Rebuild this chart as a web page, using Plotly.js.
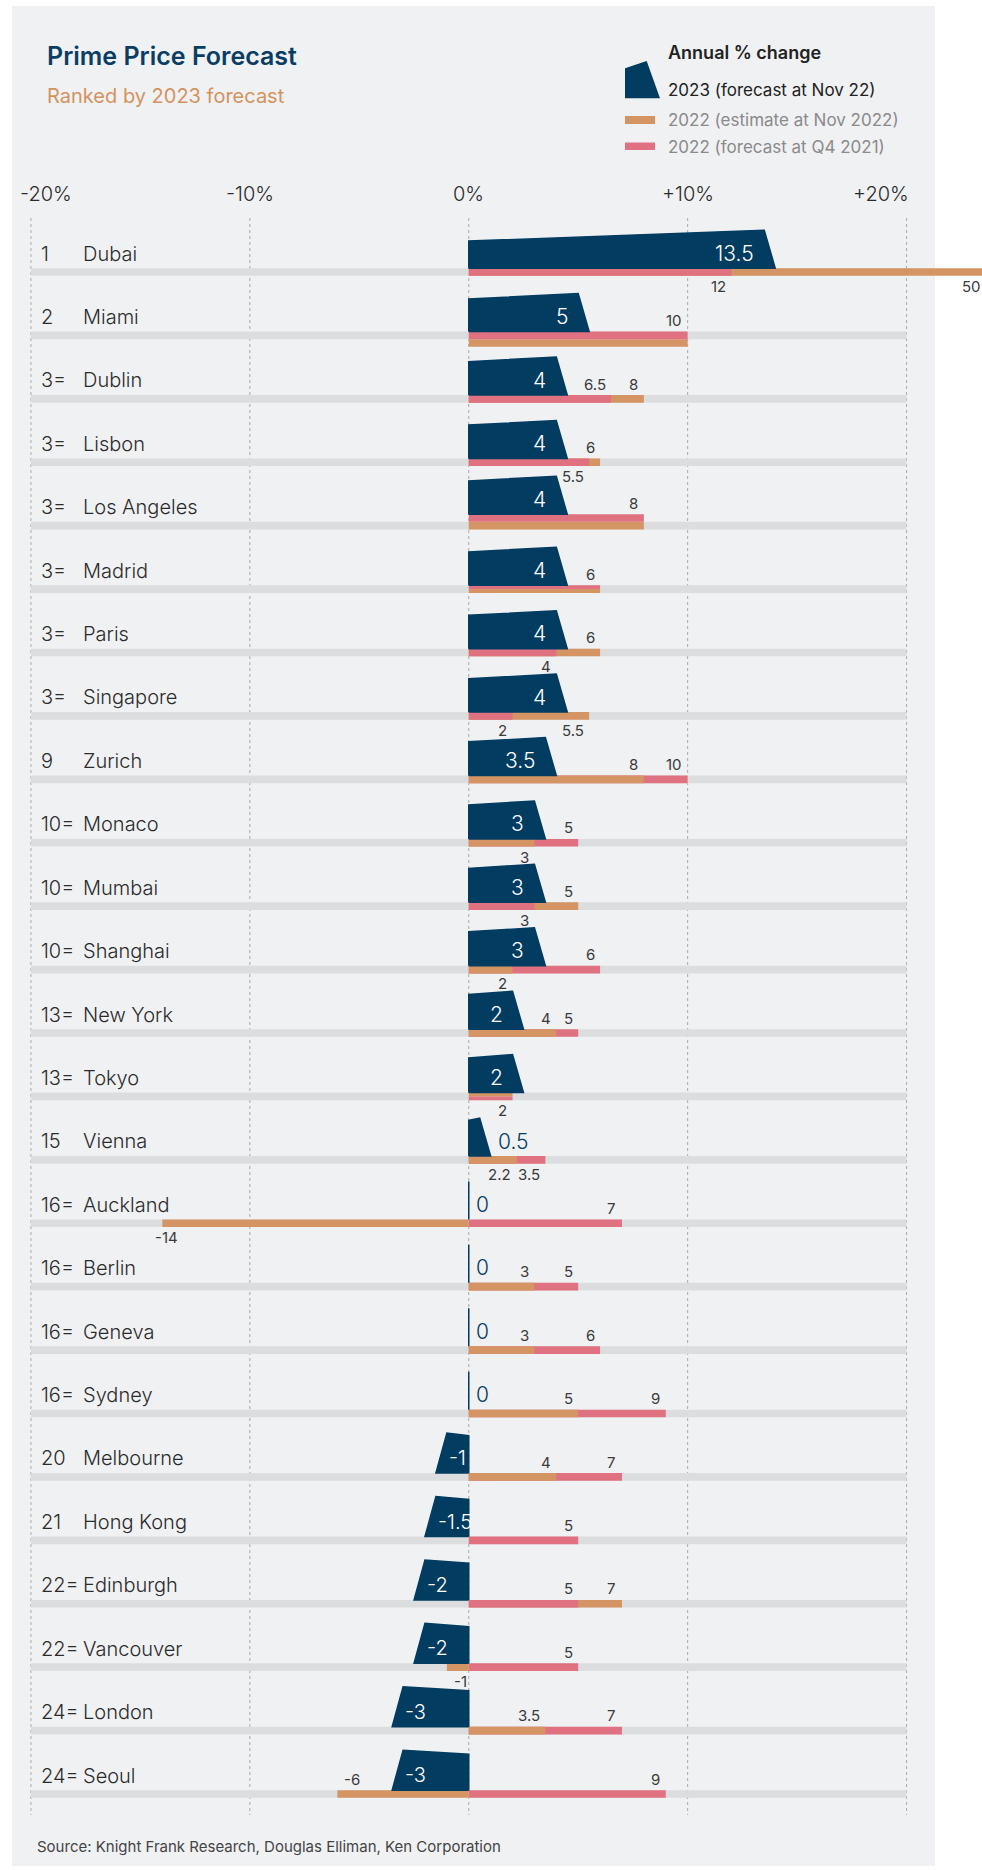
<!DOCTYPE html>
<html><head><meta charset="utf-8">
<script src="https://cdn.plot.ly/plotly-3.0.1.min.js"></script>
<style>html,body{margin:0;padding:0;background:#fff;}#chart{width:982px;height:1870px;}</style>
</head><body><div id="chart"></div>
<script>
// ---------- data ----------
const ranks = ["1","2","3=","3=","3=","3=","3=","3=","9","10=","10=","10=","13=","13=","15","16=","16=","16=","16=","20","21","22=","22=","24=","24="];
const cities = ["Dubai","Miami","Dublin","Lisbon","Los Angeles","Madrid","Paris","Singapore","Zurich","Monaco","Mumbai","Shanghai","New York","Tokyo","Vienna","Auckland","Berlin","Geneva","Sydney","Melbourne","Hong Kong","Edinburgh","Vancouver","London","Seoul"];
const forecast2023 = [13.5,5,4,4,4,4,4,4,3.5,3,3,3,2,2,0.5,0,0,0,0,-1,-1.5,-2,-2,-3,-3];
const estimate2022 = [50,10,8,6,8,6,6,5.5,8,3,5,2,4,2,2.2,-14,3,3,5,4,null,7,-1,3.5,-6];
const forecast2022Q4 = [12,10,6.5,5.5,8,6,4,2,10,5,3,6,5,2,3.5,7,5,6,9,7,5,5,5,7,9];
const tickVals = [-20,-10,0,10,20];
const tickText = ["-20%","-10%","0%","+10%","+20%"];
const legendLabels = ["2023 (forecast at Nov 22)","2022 (estimate at Nov 2022)","2022 (forecast at Q4 2021)"];

// ---------- style ----------
const W=982,H=1870;
const NAVY='#033c61', ORANGE='#d49463', PINK='#e07181', BAND='#dcdddf', PANEL='#f0f1f3', GRID='#a9a9a9', TXT='#2b2b2b';
const FONT='Inter, "Noto Sans", sans-serif';
const X0PX=468.75, PXU=21.89, ROW0=272, ROWPX=63.417;
const px2x=p=>(p-X0PX)/PXU, x2px=v=>X0PX+v*PXU;
const py2y=p=>(p-ROW0)/ROWPX, y2py=y=>ROW0+y*ROWPX;
const BANDPX=7.6, B=BANDPX/ROWPX;
const tieStyle={
  'Miami':{pink:{top:-0.5,h:1},orange:{top:0.5,h:1}},
  'Los Angeles':{pink:{top:-1.5,h:1},orange:{top:-0.5,h:1}},
  'Madrid':{pink:{top:-0.5,h:0.5},orange:{top:0,h:0.5}},
  'Tokyo':{orange:{top:-0.5,h:0.5},pink:{top:0,h:0.5}}
};
const labelBelow={Dubai:['pink','orange'],Lisbon:['pink'],Paris:['pink'],Singapore:['pink','orange'],Monaco:['orange'],Mumbai:['pink'],Shanghai:['orange'],Tokyo:['orange','pink'],Vienna:['orange','pink'],Auckland:['orange'],Vancouver:['orange']};
const labelShift={Auckland:{orange:-14}};

const back={y:[],x:[],width:[],offset:[],color:[]}, front={y:[],x:[],width:[],offset:[],color:[]};
const polyX=[], polyY=[], ann=[];
const A=(o)=>Object.assign({showarrow:false,xref:'x',yref:'y',yanchor:'middle'},o);

cities.forEach((city,i)=>{
  const centerPx=y2py(i);
  let entries=[{key:'orange',v:estimate2022[i],color:ORANGE},{key:'pink',v:forecast2022Q4[i],color:PINK}]
    .filter(e=>e.v!==null && e.v!==0);
  const tie=tieStyle[city]||{};
  let topPx=centerPx-BANDPX/2, botPx=centerPx+BANDPX/2;
  entries.forEach(e=>{e.slot=tie[e.key]||{top:-0.5,h:1};
    topPx=Math.min(topPx,centerPx+e.slot.top*BANDPX);
    botPx=Math.max(botPx,centerPx+(e.slot.top+e.slot.h)*BANDPX);});
  const sorted=entries.slice().sort((a,b)=>Math.abs(b.v)-Math.abs(a.v));
  sorted.forEach((e,k)=>{const t=k===0?back:front;
    t.y.push(i);t.x.push(e.v);t.width.push(e.slot.h*B);t.offset.push(e.slot.top*B);t.color.push(e.color);});
  // 2023 polygon
  const v=forecast2023[i];
  const hOut=(v>=0?38:40), rise=2+0.03*Math.abs(v)*PXU, hIn=hOut-rise;
  const ext=Math.sign(v)*Math.min(Math.abs(v),0.5);
  const yb=py2y(topPx);
  polyX.push(0,0,v,v+ext,0,null);
  polyY.push(yb,yb-hIn/ROWPX,yb-hOut/ROWPX,yb,yb,null);
  // value label
  const vy=py2y(topPx-15);
  if(Math.abs(v)<1){
    ann.push(A({x:px2x(x2px(v+ext)+5),y:vy,xanchor:'left',text:String(v),font:{family:FONT,size:21,color:NAVY,weight:300}}));
  } else if(v>0){
    ann.push(A({x:px2x(x2px(v)-8),y:vy,xanchor:'right',text:String(v),font:{family:FONT,size:21,color:'#ffffff',weight:300}}));
  } else {
    ann.push(A({x:px2x(x2px(v)),y:vy,xanchor:'left',text:String(v),font:{family:FONT,size:20,color:'#ffffff',weight:300}}));
  }
  // row labels
  const ly=py2y(centerPx-18.5);
  ann.push(A({x:px2x(39),y:ly,xanchor:'left',text:ranks[i],font:{family:FONT,size:20,color:TXT,weight:300}}));
  ann.push(A({x:px2x(81),y:ly,xanchor:'left',text:city,font:{family:FONT,size:20,color:TXT,weight:300}}));
  // 2022 labels
  const shown=[];
  entries.forEach(e=>{
    if(shown.some(s=>s===e.v)) return; shown.push(e.v);
    const below=(labelBelow[city]||[]).includes(e.key);
    const yy=py2y(below?botPx+10.5:topPx-11);
    const sh=((labelShift[city]||{})[e.key])||0;
    let x,anchor;
    if(e.v>0){const p=x2px(e.v)-3.5; if(p>W-10){x=px2x(W-22);anchor='left';}else{x=px2x(p+sh);anchor='right';}}
    else {x=px2x(x2px(e.v)+5+sh);anchor='left';}
    ann.push(A({x:x,y:yy,xanchor:anchor,text:String(e.v),font:{family:FONT,size:15,color:'#3a3a3a',weight:400}}));
  });
});

// tick labels
tickVals.forEach((t,k)=>{
  let anchor='center', p=x2px(t);
  if(k===0){anchor='left';p=p-13;} else if(k===tickVals.length-1){anchor='right';p=p+4;}
  ann.push(A({x:px2x(p),y:py2y(194),xanchor:anchor,text:tickText[k],font:{family:FONT,size:20,color:TXT,weight:300}}));
});

const pa=(o)=>Object.assign({showarrow:false,xref:'paper',yref:'paper',xanchor:'left',yanchor:'middle'},o);
ann.push(pa({x:45/W,y:1-56/H,text:'Prime Price Forecast',font:{family:FONT,size:25,color:'#0b3d63',weight:600}}));
ann.push(pa({x:45/W,y:1-96/H,text:'Ranked by 2023 forecast',font:{family:FONT,size:20,color:'#d4935e',weight:400}}));
ann.push(pa({x:666/W,y:1-53/H,text:'Annual % change',font:{family:FONT,size:18,color:'#222',weight:600}}));
ann.push(pa({x:666/W,y:1-90/H,text:legendLabels[0],font:{family:FONT,size:17,color:'#222',weight:400}}));
ann.push(pa({x:666/W,y:1-120/H,text:legendLabels[1],font:{family:FONT,size:17,color:'#8a8a8a',weight:400}}));
ann.push(pa({x:666/W,y:1-147/H,text:legendLabels[2],font:{family:FONT,size:17,color:'#8a8a8a',weight:400}}));
ann.push(pa({x:35/W,y:1-1846/H,text:'Source: Knight Frank Research, Douglas Elliman, Ken Corporation',font:{family:FONT,size:15,color:'#444',weight:400}}));

const shapes=[];
shapes.push({type:'rect',xref:'paper',yref:'paper',x0:12/W,x1:935/W,y0:1-1866/H,y1:1-6/H,fillcolor:PANEL,line:{width:0},layer:'below'});
tickVals.forEach(t=>shapes.push({type:'line',xref:'x',yref:'y',x0:t,x1:t,y0:py2y(218),y1:py2y(1815),line:{color:GRID,width:1,dash:'dot'},layer:'below'}));
const lp=[[625,68.3],[646.7,61],[660,98.3],[625,98.3]].map(([x,y])=>`${(x/W).toFixed(5)},${(1-y/H).toFixed(5)}`);
shapes.push({type:'path',xref:'paper',yref:'paper',path:`M${lp[0]} L${lp[1]} L${lp[2]} L${lp[3]} Z`,fillcolor:NAVY,line:{width:0}});
shapes.push({type:'rect',xref:'paper',yref:'paper',x0:625/W,x1:655/W,y0:1-124/H,y1:1-116/H,fillcolor:ORANGE,line:{width:0}});
shapes.push({type:'rect',xref:'paper',yref:'paper',x0:625/W,x1:655/W,y0:1-150/H,y1:1-142.5/H,fillcolor:PINK,line:{width:0}});

const traces=[
  {type:'bar',orientation:'h',y:cities.map((_,i)=>i),x:cities.map(()=>tickVals[tickVals.length-1]-tickVals[0]),base:cities.map(()=>tickVals[0]),width:B,marker:{color:BAND,line:{width:0}},hoverinfo:'skip',showlegend:false},
  {type:'bar',orientation:'h',y:back.y,x:back.x,base:0,width:back.width,offset:back.offset,marker:{color:back.color,line:{width:0}},hoverinfo:'skip',showlegend:false},
  {type:'bar',orientation:'h',y:front.y,x:front.x,base:0,width:front.width,offset:front.offset,marker:{color:front.color,line:{width:0}},hoverinfo:'skip',showlegend:false},
  {type:'scatter',mode:'lines',x:polyX,y:polyY,fill:'toself',fillcolor:NAVY,line:{color:NAVY,width:1.5},connectgaps:false,hoverinfo:'skip',showlegend:false}
];

const layout={width:W,height:H,margin:{l:0,r:0,t:0,b:0},paper_bgcolor:'#ffffff',plot_bgcolor:'rgba(0,0,0,0)',
  barmode:'overlay',showlegend:false,
  xaxis:{range:[px2x(0),px2x(W)],showgrid:false,zeroline:false,showticklabels:false,fixedrange:true},
  yaxis:{range:[py2y(H),py2y(0)],showgrid:false,zeroline:false,showticklabels:false,fixedrange:true},
  annotations:ann,shapes:shapes};
Plotly.newPlot('chart',traces,layout,{displayModeBar:false,staticPlot:true});
</script></body></html>
